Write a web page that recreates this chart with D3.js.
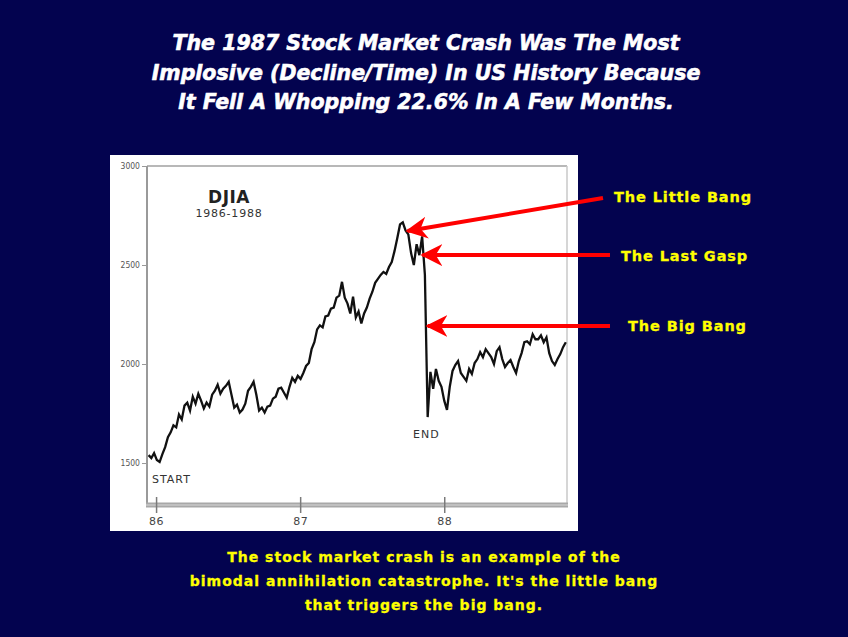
<!DOCTYPE html>
<html><head><meta charset="utf-8">
<script src="https://cdn.jsdelivr.net/npm/d3@7"></script>
<style>html,body{margin:0;padding:0;background:#03034f;}svg{display:block;}</style>
</head><body>
<script>
// ---- data ----
const titleLines = ["The 1987 Stock Market Crash Was The Most",
  "Implosive (Decline/Time) In US History Because",
  "It Fell A Whopping 22.6% In A Few Months."];
const captionLines = ["The stock market crash is an example of the",
  "bimodal annihilation catastrophe. It's the little bang",
  "that triggers the big bang."];
const seriesStart = "1985-12-13";   // first weekly close
const weeklyClose = [1540,1525,1550,1515,1505,1545,1580,1630,1655,1690,
  1680,1745,1720,1790,1805,1765,1835,1800,1850,1815,
  1775,1805,1785,1845,1865,1895,1850,1875,1890,1910,
  1845,1780,1795,1755,1770,1800,1865,1885,1910,1845,
  1765,1780,1755,1785,1790,1825,1835,1875,1880,1855,
  1830,1885,1930,1910,1940,1925,1955,1990,2005,2075,
  2110,2175,2195,2185,2240,2245,2280,2285,2335,2345,
  2415,2335,2305,2255,2340,2235,2265,2205,2255,2285,
  2330,2365,2410,2430,2450,2465,2455,2490,2515,2570,
  2635,2705,2715,2675,2655,2560,2500,2605,2550,2645,
  2450,1732,1960,1875,1975,1915,1885,1815,1768,1885,
  1965,1995,2015,1955,1935,1915,1975,1950,2005,2025,
  2060,2035,2075,2055,2035,2000,2065,2085,2025,1985,
  2005,2020,1985,1955,2015,2055,2110,2115,2100,2150,
  2125,2125,2145,2110,2135,2055,2015,1995,2025,2050,
  2085,2110];
const yTicks = [1500, 2000, 2500, 3000];
const xTickDates = ["1986-01-01","1987-01-01","1988-01-01"];
const xTickLabels = ["86","87","88"];
const arrows = [
  {label:"The Little Bang", date:"1987-09-30", value:2672, from:[603,198]},
  {label:"The Last Gasp",   date:"1987-11-07", value:2550, from:[610,255]},
  {label:"The Big Bang",    date:"1987-11-20", value:2192, from:[610,326]}
];

// ---- layout ----
const W = 848, H = 637;
const svg = d3.select("body").append("svg").attr("width", W).attr("height", H);
svg.append("rect").attr("width", W).attr("height", H).attr("fill", "#03034f");

// title
svg.append("g").selectAll("text").data(titleLines).join("text")
  .attr("x", 426).attr("y", (d,i)=> 50 + i*29.5)
  .attr("text-anchor","middle")
  .attr("font-family","'DejaVu Sans', sans-serif").attr("font-weight","bold").attr("font-style","italic")
  .attr("font-size", 20.5).attr("fill","#ffffff").attr("stroke","#ffffff").attr("stroke-width",0.6)
  .text(d=>d);

// white panel
svg.append("rect").attr("x",110).attr("y",155).attr("width",468).attr("height",376).attr("fill","#ffffff");

const parse = d3.timeParse("%Y-%m-%d");
const x = d3.scaleTime().domain([parse("1985-12-09"), parse("1988-11-07")]).range([147, 567]);
const y = d3.scaleLinear().domain([1288, 3000]).range([505, 166]);

const start = parse(seriesStart);
const data = weeklyClose.map((v,i)=>({date:d3.timeDay.offset(start, i*7), value:v}));

// frame
svg.append("line").attr("x1",147).attr("x2",567).attr("y1",166).attr("y2",166).attr("stroke","#b8b8b8").attr("stroke-width",2);
svg.append("line").attr("x1",567).attr("x2",567).attr("y1",166).attr("y2",505).attr("stroke","#c8c8c8").attr("stroke-width",1.5);
svg.append("line").attr("x1",147).attr("x2",147).attr("y1",166).attr("y2",505).attr("stroke","#9a9a9a").attr("stroke-width",2);
svg.append("rect").attr("x",146).attr("y",502.5).attr("width",422).attr("height",5).attr("fill","#a8a8a8");
svg.append("line").attr("x1",146).attr("x2",568).attr("y1",505).attr("y2",505).attr("stroke","#d8d8d8").attr("stroke-width",1);

// y axis
const yAxis = d3.axisLeft(y).tickValues(yTicks).tickFormat(d3.format("d")).tickSize(4).tickPadding(2);
const gy = svg.append("g").attr("transform","translate(146,0)").call(yAxis);
gy.select(".domain").remove();
gy.selectAll("line").attr("stroke","#999");
gy.selectAll("text").attr("font-family","'DejaVu Sans Condensed', 'DejaVu Sans', sans-serif").attr("font-size",8.5).attr("fill","#555");

// x axis
const xAxis = d3.axisBottom(x).tickValues(xTickDates.map(parse)).tickFormat((d,i)=>xTickLabels[i]).tickSize(16).tickPadding(4);
const gx = svg.append("g").attr("transform","translate(0,497)").call(xAxis);
gx.select(".domain").remove();
gx.selectAll("line").attr("stroke","#7a7a7a").attr("stroke-width",1.5);
gx.selectAll("text").attr("font-family","'DejaVu Sans', sans-serif").attr("font-size",11).attr("fill","#444").attr("letter-spacing",0.5).attr("dy","0.75em");

// labels inside chart
svg.append("text").attr("x",229).attr("y",203).attr("text-anchor","middle")
  .attr("font-family","'DejaVu Sans', sans-serif").attr("font-weight","bold").attr("font-size",17).attr("fill","#222").attr("letter-spacing",0.5).text("DJIA");
svg.append("text").attr("x",229).attr("y",217).attr("text-anchor","middle")
  .attr("font-family","'DejaVu Sans', sans-serif").attr("font-size",11).attr("fill","#333").attr("letter-spacing",0.8).text("1986-1988");
svg.append("text").attr("x",152).attr("y",483)
  .attr("font-family","'DejaVu Sans', sans-serif").attr("font-size",11).attr("fill","#333").attr("letter-spacing",1).text("START");
svg.append("text").attr("x",413).attr("y",438)
  .attr("font-family","'DejaVu Sans', sans-serif").attr("font-size",11).attr("fill","#333").attr("letter-spacing",1).text("END");

// line
const line = d3.line().x(d=>x(d.date)).y(d=>y(d.value));
svg.append("path").datum(data).attr("d", line).attr("fill","none")
  .attr("stroke","#111").attr("stroke-width",2.3).attr("stroke-linejoin","miter");

// arrows
const defs = svg.append("defs");
defs.append("marker").attr("id","ah").attr("viewBox","0 0 10 10").attr("refX",9).attr("refY",5)
  .attr("markerWidth",5.5).attr("markerHeight",5.5).attr("markerUnits","strokeWidth").attr("orient","auto")
  .append("path").attr("d","M10,5 L0,0 L3,5 L0,10 Z").attr("fill","#ff0000");
const ga = svg.append("g");
arrows.forEach(a=>{
  ga.append("line").attr("x1",a.from[0]).attr("y1",a.from[1])
    .attr("x2",x(parse(a.date))).attr("y2",y(a.value))
    .attr("stroke","#ff0000").attr("stroke-width",4).attr("marker-end","url(#ah)");
});
const labelPos = [[614,202],[621,261],[628,331]];
svg.append("g").selectAll("text").data(arrows).join("text")
  .attr("x",(d,i)=>labelPos[i][0]).attr("y",(d,i)=>labelPos[i][1])
  .attr("font-family","'DejaVu Sans', sans-serif").attr("font-weight","bold").attr("font-size",14.5)
  .attr("letter-spacing",0.9).attr("fill","#ffff00").attr("stroke","#ffff00").attr("stroke-width",0.3).text(d=>d.label);

// caption
svg.append("g").selectAll("text").data(captionLines).join("text")
  .attr("x", 424).attr("y",(d,i)=> 562 + i*24)
  .attr("text-anchor","middle")
  .attr("font-family","'DejaVu Sans', sans-serif").attr("font-weight","bold")
  .attr("font-size", 14).attr("letter-spacing",1).attr("fill","#ffff00").attr("stroke","#ffff00").attr("stroke-width",0.3)
  .text(d=>d);
</script>
</body></html>
